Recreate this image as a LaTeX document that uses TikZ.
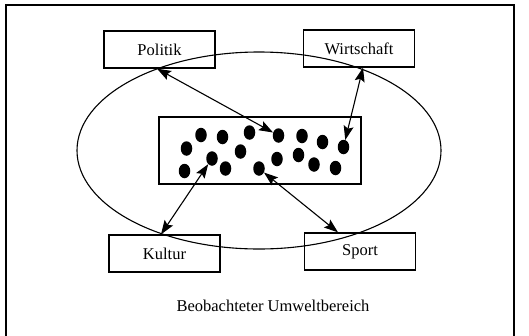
\documentclass[tikz,border=0pt]{standalone}
\usepackage{fontspec}
\setmainfont{Liberation Serif}
\usetikzlibrary{arrows.meta,shapes.geometric}
\begin{document}
\begin{tikzpicture}[x=1pt,y=-1pt,
  lbox/.style={draw,line width=1.3pt,minimum width=111pt,minimum height=37pt,inner sep=0pt,font=\fontsize{16.5}{18}\selectfont},
  dot/.style={ellipse,fill=black,inner sep=0pt,minimum width=11.5pt,minimum height=14.5pt},
  arr/.style={line width=1.1pt,{Stealth[length=14pt,width=10pt,inset=2.5pt]}-{Stealth[length=14pt,width=10pt,inset=2.5pt]}}]
\useasboundingbox (0,0) rectangle (529,335);
% frame
\draw[line width=2pt] (6,340) -- (6,5) -- (514,5) -- (514,340);
% ellipse
\draw[line width=1.1pt] (259,150.5) ellipse [x radius=182, y radius=98.5];
% boxes
\node[lbox] (pol) at (159.5,49.5) {Politik};
\node[lbox] (wir) at (359,48.5) {Wirtschaft};
\node[lbox] (kul) at (164.5,253.5) {Kultur};
\node[lbox] (spo) at (360,251.5) {Sport};
% central rectangle
\node[draw,line width=1.3pt,minimum width=202pt,minimum height=67pt,inner sep=0pt] (ctr) at (260,150.5) {};
% dots
\node[dot] (d1) at (201,135) {};
\node[dot] (d2) at (222.5,137) {};
\node[dot] (d3) at (249.5,132.5) {};
\node[dot] (d4) at (278.5,135.5) {};
\node[dot] (d5) at (302,136) {};
\node[dot] (d6) at (322.5,142) {};
\node[dot] (d7) at (343.5,147) {};
\node[dot] (d8) at (186.5,148.5) {};
\node[dot] (d9) at (240.5,151.5) {};
\node[dot] (d10) at (212,158.5) {};
\node[dot] (d11) at (277,159) {};
\node[dot] (d12) at (298.5,155) {};
\node[dot] (d13) at (314,164.5) {};
\node[dot] (d14) at (335.5,168) {};
\node[dot] (d15) at (184.5,171) {};
\node[dot] (d16) at (225.5,168.5) {};
\node[dot] (d17) at (259,168.5) {};
% arrows
\draw[arr] ([xshift=-2.5pt]pol.south) -- (d4);
\draw[arr] ([xshift=4pt]wir.south) -- (d7);
\draw[arr] ([xshift=-3.5pt]kul.north) -- (d10);
\draw[arr] ([xshift=-22pt]spo.north) -- (d17);
% caption
\node[font=\fontsize{16.5}{18}\selectfont] (cap) at (273,306) {Beobachteter Umweltbereich};
\end{tikzpicture}
\end{document}
